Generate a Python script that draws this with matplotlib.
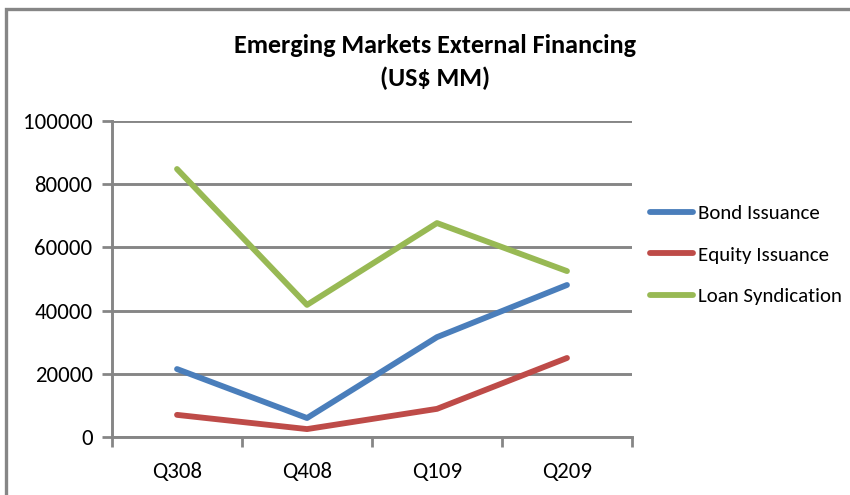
import matplotlib.pyplot as plt
from matplotlib.lines import Line2D
from matplotlib.patches import Rectangle

# Quarterly external financing (US$ MM)
quarters = ["Q308", "Q408", "Q109", "Q209"]
bond = [21500, 6000, 31600, 48100]
equity = [7000, 2500, 8900, 25000]
loan = [84800, 41800, 67700, 52500]
yticks = [0, 20000, 40000, 60000, 80000, 100000]

FONT = ["Carlito", "DejaVu Sans"]
GRAY = "#868686"


def main():
    plt.rcParams["font.family"] = FONT
    fig = plt.figure(figsize=(8.5, 4.95), dpi=100)
    ax = fig.add_axes([0.1318, 0.1172, 0.6117, 0.6384])

    x = range(len(quarters))
    series = [
        ("Bond Issuance", bond, "#4A7EBB"),
        ("Equity Issuance", equity, "#BE4B48"),
        ("Loan Syndication", loan, "#98B954"),
    ]
    for name, vals, col in series:
        ax.plot(x, vals, color=col, linewidth=4.2, label=name,
                solid_capstyle="round", solid_joinstyle="round", zorder=3)

    ax.set_xlim(-0.5, len(quarters) - 0.5)
    ax.set_ylim(0, 100000)
    ax.set_yticks(yticks)
    ax.set_yticklabels([str(v) for v in yticks])
    ax.set_xticks([i + 0.5 for i in range(-1, len(quarters))])
    ax.set_xticklabels([])
    ax.set_xticks(list(x), minor=True)
    ax.set_xticklabels(quarters, minor=True)
    ax.tick_params(axis="x", which="minor", length=0, pad=18, labelsize=16.5)
    ax.tick_params(axis="x", which="major", length=7, width=2, color=GRAY, direction="out")
    ax.tick_params(axis="y", length=7, width=2, color=GRAY, direction="out", labelsize=16.5, pad=7)

    ax.grid(axis="y", color=GRAY, linewidth=2.1, zorder=1)
    for side in ["top", "right"]:
        ax.spines[side].set_visible(False)
    for side in ["left", "bottom"]:
        ax.spines[side].set_color(GRAY)
        ax.spines[side].set_linewidth(2.1)

    fig.text(0.512, 0.909, "Emerging Markets External Financing", ha="center", va="center",
             fontsize=18.8, fontweight="bold")
    fig.text(0.512, 0.842, "(US$ MM)", ha="center", va="center",
             fontsize=18.8, fontweight="bold")

    handles = [Line2D([0], [0], color=c, linewidth=4.2, solid_capstyle="round") for _, _, c in series]
    fig.legend(handles, [s[0] for s in series], loc="center left",
               bbox_to_anchor=(0.7647, 0.485), frameon=False, fontsize=15,
               borderpad=0, borderaxespad=0, handlelength=2.06,
               handletextpad=0.25, labelspacing=1.15)

    # outer chart border (only top and left visible in the crop)
    fig.patches.append(Rectangle((6 / 850, -0.1), 1.2, (495 - 9) / 495 + 0.1,
                                 transform=fig.transFigure, fill=False,
                                 edgecolor=GRAY, linewidth=2.4))

    fig.savefig("out.png", dpi=100)


if __name__ == "__main__":
    main()
